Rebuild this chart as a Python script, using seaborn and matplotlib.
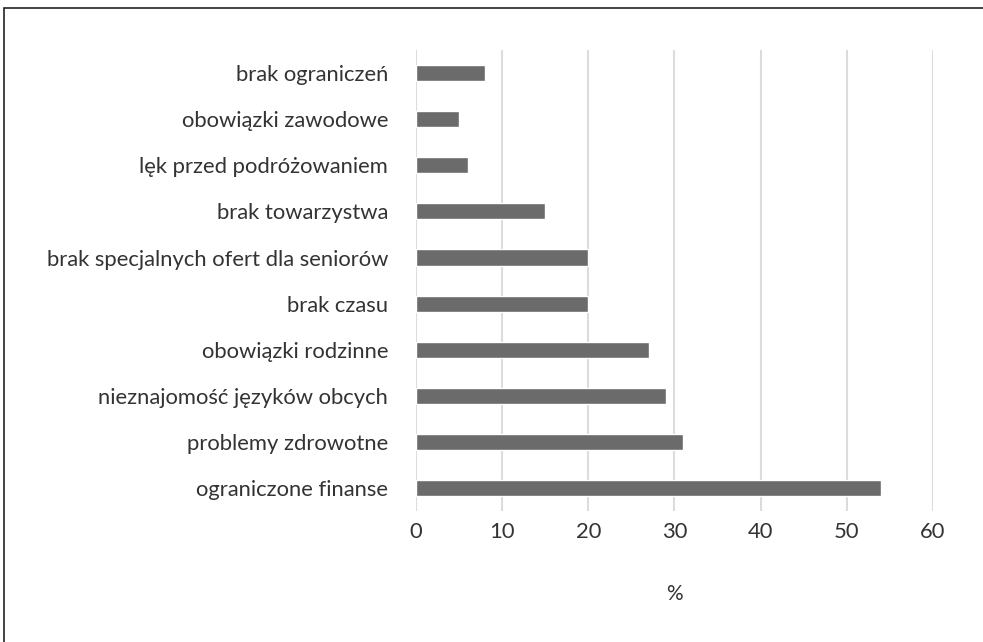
import pandas as pd
import seaborn as sns
import matplotlib.pyplot as plt

# Data (top to bottom)
categories = ['brak ograniczeń', 'obowiązki zawodowe', 'lęk przed podróżowaniem',
              'brak towarzystwa', 'brak specjalnych ofert dla seniorów', 'brak czasu',
              'obowiązki rodzinne', 'nieznajomość języków obcych',
              'problemy zdrowotne', 'ograniczone finanse']
values = [8, 5, 6, 15, 20, 20, 27, 29, 31, 54]
x_ticks = [0, 10, 20, 30, 40, 50, 60]

df = pd.DataFrame({'cause': categories, 'pct': values})

sns.set_style('white')
plt.rcParams['font.family'] = ['Lato', 'DejaVu Sans']

fig = plt.figure(figsize=(9.83, 6.42), dpi=100)
ax = fig.add_axes([0.4232, 0.204, 0.949 - 0.4232, 0.922 - 0.204])

sns.barplot(data=df, x='pct', y='cause', color='#6b6b6b', width=0.35,
            saturation=1, ax=ax, zorder=3)

ax.set_xlim(0, 60)
ax.set_xticks(x_ticks)
ax.grid(axis='x', color='#dcdcdc', linewidth=1.5, zorder=0)
ax.grid(axis='y', visible=False)
for s in ax.spines.values():
    s.set_visible(False)

ax.tick_params(axis='y', length=0, pad=20, labelsize=15.8, labelcolor='#333333')
ax.tick_params(axis='x', length=0, pad=8, labelsize=15.8, labelcolor='#333333')
ax.set_ylabel('')
ax.set_xlabel('%', fontsize=15, color='#333333', labelpad=30)

# frame of the original figure (cut off at right and bottom)
fig.patches.append(plt.Rectangle((4 / 983, -0.05), 1.2, 1 - 8 / 642 + 0.05,
                                 transform=fig.transFigure, fill=False,
                                 edgecolor='#222222', linewidth=1.2))

fig.savefig('out.png', dpi=100)
